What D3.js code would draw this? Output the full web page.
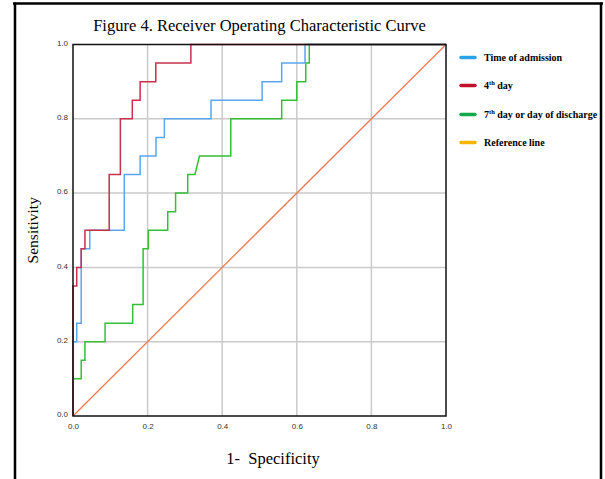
<!DOCTYPE html>
<html><head><meta charset="utf-8">
<script src="https://cdn.jsdelivr.net/npm/d3@7"></script>
<style>
html,body{margin:0;padding:0;background:#fff;}
svg{display:block;}
</style></head>
<body>
<svg id="chart" width="605" height="479"></svg>
<script>
// ---- data ----
const seriesNames = ["Time of admission", "4th day", "7th day or day of discharge", "Reference line"];
// ROC step points [1-specificity, sensitivity]
const admissionFPR = [0, 0, 0.01, 0.01, 0.022, 0.022, 0.045, 0.045, 0.1375, 0.1375, 0.18, 0.18, 0.2225, 0.2225, 0.245, 0.245, 0.37, 0.37, 0.507, 0.507, 0.5595, 0.5595, 0.622, 0.622, 1];
const admissionTPR = [0, 0.2, 0.2, 0.25, 0.25, 0.45, 0.45, 0.5, 0.5, 0.65, 0.65, 0.7, 0.7, 0.75, 0.75, 0.8, 0.8, 0.85, 0.85, 0.9, 0.9, 0.95, 0.95, 1, 1];
const day4FPR = [0, 0, 0.01, 0.01, 0.022, 0.022, 0.032, 0.032, 0.097, 0.097, 0.127, 0.127, 0.159, 0.159, 0.18, 0.18, 0.222, 0.222, 0.316, 0.316, 1];
const day4TPR = [0, 0.35, 0.35, 0.4, 0.4, 0.45, 0.45, 0.5, 0.5, 0.65, 0.65, 0.8, 0.8, 0.85, 0.85, 0.9, 0.9, 0.95, 0.95, 1, 1];
const day7FPR = [0, 0, 0.022, 0.022, 0.032, 0.032, 0.086, 0.086, 0.16, 0.16, 0.188, 0.188, 0.202, 0.202, 0.254, 0.254, 0.275, 0.275, 0.3075, 0.3075, 0.327, 0.339, 0.423, 0.423, 0.5595, 0.5595, 0.6, 0.6, 0.624, 0.624, 0.6335, 0.6335, 1];
const day7TPR = [0, 0.1, 0.1, 0.15, 0.15, 0.2, 0.2, 0.25, 0.25, 0.3, 0.3, 0.45, 0.45, 0.5, 0.5, 0.55, 0.55, 0.6, 0.6, 0.65, 0.65, 0.7, 0.7, 0.8, 0.8, 0.85, 0.85, 0.9, 0.9, 0.95, 0.95, 1, 1];
const referenceFPR = [0, 1];
const referenceTPR = [0, 1];
const tickValues = [0, 0.2, 0.4, 0.6, 0.8, 1.0];

const lineColors = ["#5aa6ee", "#c8304c", "#34bf34", "#f07a50"];
const legendColors = ["#2ba3e8", "#c0102a", "#13a94a", "#f7b500"];

// ---- layout ----
const svg = d3.select("#chart");
const X0 = 73, X1 = 446, Y0 = 416, Y1 = 44.5;
const x = d3.scaleLinear().domain([0, 1]).range([X0, X1]);
const y = d3.scaleLinear().domain([0, 1]).range([Y0, Y1]);

// outer frame
svg.append("line").attr("x1", 13).attr("x2", 603).attr("y1", 3.5).attr("y2", 3.5).attr("stroke", "#000").attr("stroke-width", 2.5);
svg.append("line").attr("x1", 15).attr("x2", 15).attr("y1", 2.5).attr("y2", 479).attr("stroke", "#000").attr("stroke-width", 2.5);
svg.append("line").attr("x1", 601).attr("x2", 601).attr("y1", 2.5).attr("y2", 479).attr("stroke", "#000").attr("stroke-width", 2.5);

// title
svg.append("text").attr("x", 259.5).attr("y", 31).attr("text-anchor", "middle")
  .attr("font-family", "'Liberation Serif','Times New Roman',serif").attr("font-size", 16.5)
  .text("Figure 4. Receiver Operating Characteristic Curve");

// grid
const grid = svg.append("g");
tickValues.slice(1, -1).forEach(t => {
  grid.append("line").attr("x1", x(t)).attr("x2", x(t)).attr("y1", Y1).attr("y2", Y0).attr("stroke", "#cacaca").attr("stroke-width", 1.5);
  grid.append("line").attr("x1", X0).attr("x2", X1).attr("y1", y(t)).attr("y2", y(t)).attr("stroke", "#cacaca").attr("stroke-width", 1.5);
});

// axes (labels via d3 axis, no tick marks)
const fmt = d3.format(".1f");
const xAxis = svg.append("g").attr("transform", `translate(0,${Y0})`)
  .call(d3.axisBottom(x).tickValues(tickValues).tickFormat(fmt).tickSize(0).tickPadding(7));
const yAxis = svg.append("g").attr("transform", `translate(${X0},0)`)
  .call(d3.axisLeft(y).tickValues(tickValues).tickFormat(fmt).tickSize(0).tickPadding(5));
[xAxis, yAxis].forEach(a => {
  a.select(".domain").remove();
  a.selectAll("text").attr("font-family", "'Liberation Sans',Arial,sans-serif").attr("font-size", 8).attr("fill", "#333");
});
yAxis.selectAll("text").attr("dy", "0.1em");

// lines
const line = d3.line().x(d => x(d[0])).y(d => y(d[1]));
const series = [
  [admissionFPR, admissionTPR],
  [day4FPR, day4TPR],
  [day7FPR, day7TPR],
  [referenceFPR, referenceTPR]
];
const plotG = svg.append("g");
[3, 2, 0, 1].forEach(i => {
  const [fx, ty] = series[i];
  const pts = fx.map((v, k) => [v, ty[k]]);
  plotG.append("path").attr("d", line(pts)).attr("fill", "none")
    .attr("stroke", lineColors[i]).attr("stroke-width", i === 3 ? 1.3 : 1.5);
});

// plot border
svg.append("rect").attr("x", X0).attr("y", Y1).attr("width", X1 - X0).attr("height", Y0 - Y1)
  .attr("fill", "none").attr("stroke", "#111").attr("stroke-width", 1.5);

// axis titles
svg.append("text").attr("x", 273).attr("y", 464).attr("text-anchor", "middle")
  .attr("font-family", "'Liberation Serif','Times New Roman',serif").attr("font-size", 16.5)
  .attr("xml:space", "preserve").style("white-space", "pre")
  .text("1-  Specificity");
svg.append("text").attr("transform", `translate(38,${(Y0 + Y1) / 2}) rotate(-90)`).attr("text-anchor", "middle")
  .attr("font-family", "'Liberation Serif','Times New Roman',serif").attr("font-size", 15.5)
  .text("Sensitivity");

// legend
const legY = [57.5, 85.5, 114.5, 142.5];
const leg = svg.append("g").attr("font-family", "'Liberation Serif','Times New Roman',serif").attr("font-weight", "bold").attr("font-size", 10);
seriesNames.forEach((name, i) => {
  leg.append("line").attr("x1", 461).attr("x2", 475).attr("y1", legY[i]).attr("y2", legY[i])
    .attr("stroke", legendColors[i]).attr("stroke-width", 3.5).attr("stroke-linecap", "round");
  const t = leg.append("text").attr("x", 484).attr("y", legY[i] + 3.5);
  const m = name.match(/^(\d)(th)(.*)$/);
  if (m) {
    t.append("tspan").text(m[1]);
    t.append("tspan").attr("dy", -4).attr("font-size", 6.5).text(m[2]);
    t.append("tspan").attr("dy", 4).text(m[3]);
  } else {
    t.text(name);
  }
});
</script>
</body></html>
